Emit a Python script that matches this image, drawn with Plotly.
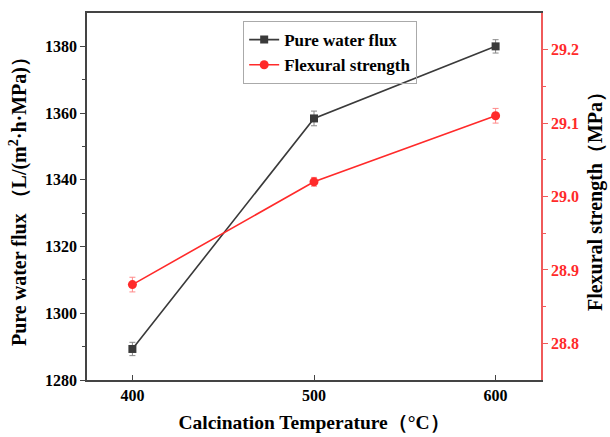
import plotly.graph_objects as go

temps = [400, 500, 600]
flux = [1289.3, 1358.4, 1380.0]
flux_err = [2.0, 2.2, 2.0]
flex = [28.88, 29.02, 29.11]
flex_err = [0.010, 0.006, 0.010]
flux_ticks = [1280, 1300, 1320, 1340, 1360, 1380]
flex_ticks = [28.8, 28.9, 29.0, 29.1, 29.2]

FONT = "Liberation Serif"
DARK = "#3a3a3a"
RED = "#ff2a2a"
RED_AX = "#f05a5a"

fig = go.Figure()
fig.add_trace(go.Scatter(
    x=temps, y=flux, name="<b>Pure water flux</b>", mode="lines+markers",
    line=dict(color=DARK, width=1.6),
    marker=dict(symbol="square", size=8, color=DARK),
    error_y=dict(type="data", array=flux_err, color="#888888", thickness=1, width=3),
    yaxis="y"))
fig.add_trace(go.Scatter(
    x=temps, y=flex, name="<b>Flexural strength</b>", mode="lines+markers",
    line=dict(color=RED, width=1.6),
    marker=dict(symbol="circle", size=9, color=RED),
    error_y=dict(type="data", array=flex_err, color="#ff8a8a", thickness=1, width=3),
    yaxis="y2"))

fig.update_layout(
    width=610, height=437,
    margin=dict(l=87, r=69, t=13, b=57),
    paper_bgcolor="white", plot_bgcolor="white",
    font=dict(family=FONT, size=16, color="black"),
    showlegend=True,
    legend=dict(x=0.344, y=0.978, xanchor="left", yanchor="top",
                bordercolor="#aaaaaa", borderwidth=1, bgcolor="rgba(255,255,255,0)",
                font=dict(family=FONT, size=17, color="black"),
                tracegroupgap=0, itemwidth=30),
    xaxis=dict(range=[375, 625], tickvals=temps, ticktext=[f"<b>{t}</b>" for t in temps],
               ticks="inside", ticklen=5, tickcolor="#444", showline=True, linecolor="#444",
               linewidth=1.5, mirror=True, showgrid=False, zeroline=False, automargin=False,
               tickfont=dict(family=FONT, size=16),
               title=dict(text="<b>Calcination Temperature（°C）</b>", standoff=12,
                          font=dict(family=FONT, size=19.5))),
    yaxis=dict(range=[1280, 1390], tickvals=flux_ticks,
               ticktext=[f"<b>{v}</b>" for v in flux_ticks],
               ticks="outside", ticklen=5, tickcolor="#444", showline=True, linecolor="#444",
               linewidth=1.5, showgrid=False, zeroline=False, automargin=False,
               minor=dict(tickvals=[1290, 1310, 1330, 1350, 1370], ticks="outside", ticklen=3, tickcolor="#444"),
               tickfont=dict(family=FONT, size=16),
               title=dict(text="<b>Pure water flux （L/(m<sup>2</sup>·h·MPa)）</b>", standoff=13,
                          font=dict(family=FONT, size=20))),
    yaxis2=dict(range=[28.75, 29.25], overlaying="y", side="right",
                tickvals=flex_ticks,
                ticktext=[f"<b>{v:.1f}</b>" for v in flex_ticks],
                ticks="outside", ticklen=5, tickcolor=RED_AX, showline=True, linecolor=RED_AX,
                linewidth=1.5, showgrid=False, zeroline=False, automargin=False,
                minor=dict(tickvals=[28.85, 28.95, 29.05, 29.15], ticks="outside", ticklen=3, tickcolor=RED_AX),
                tickfont=dict(family=FONT, size=16, color=RED),
                title=dict(text="<b>Flexural strength（MPa）</b>", standoff=10,
                           font=dict(family=FONT, size=20, color="black"))),
)

fig.write_html("out.html")
